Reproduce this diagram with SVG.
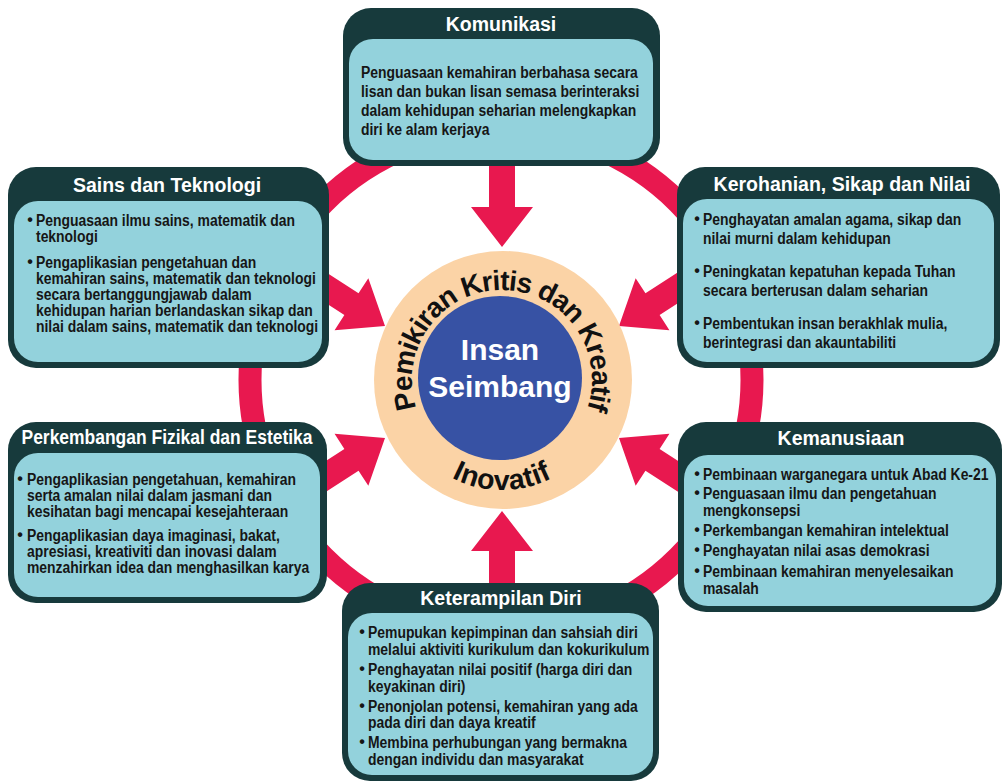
<svg xmlns="http://www.w3.org/2000/svg" width="1004" height="783" viewBox="0 0 1004 783">
<defs>
<style>
.dark{fill:#173a3c}
.light{fill:#93d2dc}
.hdr{font-family:"Liberation Sans",Arial,sans-serif;font-weight:bold;font-size:19.5px;fill:#ffffff;text-anchor:middle}
.body{font-family:"Liberation Sans",Arial,sans-serif;font-weight:bold;font-size:16px;fill:#161616}
.bul{font-family:"Liberation Sans",Arial,sans-serif;font-weight:bold;font-size:16px;fill:#161616;text-anchor:middle}
.arrow{fill:#e8184f}
.ring{fill:none;stroke:#e8184f;stroke-width:23}
.curve{font-family:"Liberation Sans",Arial,sans-serif;font-weight:bold;fill:#111111}
.center{font-family:"Liberation Sans",Arial,sans-serif;font-weight:bold;font-size:30px;fill:#ffffff;text-anchor:middle}
</style>
<polygon id="arr" points="-100,-13 -40,-13 -40,-31 0,0 -40,31 -40,13 -100,13"/>
<path id="topArc" d="M424.06,425 A90,90 0 1 1 579.94,425"/>
<path id="botArc" d="M406.74,435 A110,110 0 0 0 597.26,435"/>
</defs>
<rect width="1004" height="783" fill="#ffffff"/>

<g id="connectors">
<circle class="ring" cx="501" cy="380" r="251"/>
<use href="#arr" class="arrow" transform="translate(502,247) rotate(90)"/>
<use href="#arr" class="arrow" transform="translate(502,511) rotate(-90)"/>
<use href="#arr" class="arrow" transform="translate(385,326) rotate(33)"/>
<use href="#arr" class="arrow" transform="translate(619,326) rotate(147)"/>
<use href="#arr" class="arrow" transform="translate(385,438) rotate(-33)"/>
<use href="#arr" class="arrow" transform="translate(619,438) rotate(-147)"/>
</g>

<g id="komunikasi">
<rect class="dark" x="343" y="8" width="317" height="158" rx="28"/>
<rect class="light" x="349" y="39" width="304" height="121" rx="24"/>
<text class="hdr" x="501" y="31">Komunikasi</text>
<g class="body" transform="translate(361,0) scale(0.87,1)">
<text x="0" y="78">Penguasaan kemahiran berbahasa secara</text>
<text x="0" y="97">lisan dan bukan lisan semasa berinteraksi</text>
<text x="0" y="116">dalam kehidupan seharian melengkapkan</text>
<text x="0" y="135">diri ke alam kerjaya</text>
</g>
</g>

<g id="sains">
<rect class="dark" x="8" y="167" width="321" height="201" rx="28"/>
<rect class="light" x="14" y="201" width="308" height="161" rx="24"/>
<text class="hdr" x="167" y="192">Sains dan Teknologi</text>
<text class="bul" x="30" y="225">•</text>
<text class="bul" x="30" y="267">•</text>
<g class="body" transform="translate(36,0) scale(0.87,1)">
<text x="0" y="226">Penguasaan ilmu sains, matematik dan</text>
<text x="0" y="242">teknologi</text>
<text x="0" y="268">Pengaplikasian pengetahuan dan</text>
<text x="0" y="284">kemahiran sains, matematik dan teknologi</text>
<text x="0" y="300">secara bertanggungjawab dalam</text>
<text x="0" y="316">kehidupan harian berlandaskan sikap dan</text>
<text x="0" y="332">nilai dalam sains, matematik dan teknologi</text>
</g>
</g>

<g id="kerohanian">
<rect class="dark" x="677" y="167" width="323" height="201" rx="28"/>
<rect class="light" x="683" y="199" width="311" height="163" rx="24"/>
<text class="hdr" x="842" y="191">Kerohanian, Sikap dan Nilai</text>
<text class="bul" x="697" y="224">•</text>
<text class="bul" x="697" y="276">•</text>
<text class="bul" x="697" y="328">•</text>
<g class="body" transform="translate(703,0) scale(0.87,1)">
<text x="0" y="225">Penghayatan amalan agama, sikap dan</text>
<text x="0" y="244">nilai murni dalam kehidupan</text>
<text x="0" y="277">Peningkatan kepatuhan kepada Tuhan</text>
<text x="0" y="296">secara berterusan dalam seharian</text>
<text x="0" y="329">Pembentukan insan berakhlak mulia,</text>
<text x="0" y="348">berintegrasi dan akauntabiliti</text>
</g>
</g>

<g id="perkembangan">
<rect class="dark" x="8" y="422" width="319" height="181" rx="28"/>
<rect class="light" x="14" y="453" width="306" height="144" rx="24"/>
<text class="hdr" x="167" y="444" textLength="291" lengthAdjust="spacingAndGlyphs">Perkembangan Fizikal dan Estetika</text>
<text class="bul" x="20" y="484">•</text>
<text class="bul" x="20" y="540">•</text>
<g class="body" transform="translate(27,0) scale(0.87,1)">
<text x="0" y="485">Pengaplikasian pengetahuan, kemahiran</text>
<text x="0" y="501">serta amalan nilai dalam jasmani dan</text>
<text x="0" y="517">kesihatan bagi mencapai kesejahteraan</text>
<text x="0" y="541">Pengaplikasian daya imaginasi, bakat,</text>
<text x="0" y="557">apresiasi, kreativiti dan inovasi dalam</text>
<text x="0" y="573">menzahirkan idea dan menghasilkan karya</text>
</g>
</g>

<g id="kemanusiaan">
<rect class="dark" x="678" y="422" width="324" height="190" rx="28"/>
<rect class="light" x="684" y="455" width="312" height="151" rx="24"/>
<text class="hdr" x="841" y="445">Kemanusiaan</text>
<text class="bul" x="697" y="479">•</text>
<text class="bul" x="697" y="498">•</text>
<text class="bul" x="697" y="535">•</text>
<text class="bul" x="697" y="555">•</text>
<text class="bul" x="697" y="576">•</text>
<g class="body" transform="translate(703,0) scale(0.87,1)">
<text x="0" y="480">Pembinaan warganegara untuk Abad Ke-21</text>
<text x="0" y="499">Penguasaan ilmu dan pengetahuan</text>
<text x="0" y="516">mengkonsepsi</text>
<text x="0" y="536">Perkembangan kemahiran intelektual</text>
<text x="0" y="556">Penghayatan nilai asas demokrasi</text>
<text x="0" y="577">Pembinaan kemahiran menyelesaikan</text>
<text x="0" y="594">masalah</text>
</g>
</g>

<g id="keterampilan">
<rect class="dark" x="342" y="583" width="317" height="198" rx="28"/>
<rect class="light" x="348" y="613" width="305" height="162" rx="24"/>
<text class="hdr" x="501" y="605">Keterampilan Diri</text>
<text class="bul" x="362" y="637">•</text>
<text class="bul" x="362" y="674">•</text>
<text class="bul" x="362" y="711">•</text>
<text class="bul" x="362" y="747">•</text>
<g class="body" transform="translate(368,0) scale(0.87,1)">
<text x="0" y="638">Pemupukan kepimpinan dan sahsiah diri</text>
<text x="0" y="655">melalui aktiviti kurikulum dan kokurikulum</text>
<text x="0" y="675">Penghayatan nilai positif (harga diri dan</text>
<text x="0" y="692">keyakinan diri)</text>
<text x="0" y="712">Penonjolan potensi, kemahiran yang ada</text>
<text x="0" y="728">pada diri dan daya kreatif</text>
<text x="0" y="748">Membina perhubungan yang bermakna</text>
<text x="0" y="765">dengan individu dan masyarakat</text>
</g>
</g>

<g id="insan-seimbang">
<circle cx="503" cy="380" r="129" fill="#fbd3a6"/>
<circle cx="500" cy="378" r="82" fill="#3752a4"/>
<text class="curve" font-size="28" letter-spacing="-1"><textPath href="#topArc" startOffset="50%" text-anchor="middle">Pemikiran Kritis dan Kreatif</textPath></text>
<text class="curve" font-size="28.5" letter-spacing="0.4"><textPath href="#botArc" startOffset="50%" text-anchor="middle">Inovatif</textPath></text>
<text class="center" x="500" y="360">Insan</text>
<text class="center" x="500" y="397">Seimbang</text>
</g>
</svg>
